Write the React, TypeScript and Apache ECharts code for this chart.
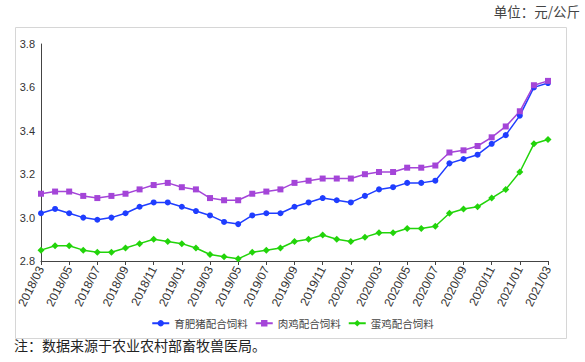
import React, { useEffect, useRef } from "react";
import * as echarts from "echarts";

const categories = [
  "2018/03","2018/04","2018/05","2018/06","2018/07","2018/08","2018/09","2018/10","2018/11","2018/12",
  "2019/01","2019/02","2019/03","2019/04","2019/05","2019/06","2019/07","2019/08","2019/09","2019/10","2019/11","2019/12",
  "2020/01","2020/02","2020/03","2020/04","2020/05","2020/06","2020/07","2020/08","2020/09","2020/10","2020/11","2020/12",
  "2021/01","2021/02","2021/03",
];

const pigFeed = [
  3.02, 3.04, 3.02, 3.0, 2.99, 3.0, 3.02, 3.05, 3.07, 3.07,
  3.05, 3.03, 3.01, 2.98, 2.97, 3.01, 3.02, 3.02, 3.05, 3.07, 3.09, 3.08,
  3.07, 3.1, 3.13, 3.14, 3.16, 3.16, 3.17, 3.25, 3.27, 3.29, 3.34, 3.38,
  3.47, 3.6, 3.62,
];

const broilerFeed = [
  3.11, 3.12, 3.12, 3.1, 3.09, 3.1, 3.11, 3.13, 3.15, 3.16,
  3.14, 3.13, 3.09, 3.08, 3.08, 3.11, 3.12, 3.13, 3.16, 3.17, 3.18, 3.18,
  3.18, 3.2, 3.21, 3.21, 3.23, 3.23, 3.24, 3.3, 3.31, 3.33, 3.37, 3.42,
  3.49, 3.61, 3.63,
];

const layerFeed = [
  2.85, 2.87, 2.87, 2.85, 2.84, 2.84, 2.86, 2.88, 2.9, 2.89,
  2.88, 2.86, 2.83, 2.82, 2.81, 2.84, 2.85, 2.86, 2.89, 2.9, 2.92, 2.9,
  2.89, 2.91, 2.93, 2.93, 2.95, 2.95, 2.96, 3.02, 3.04, 3.05, 3.09, 3.13,
  3.21, 3.34, 3.36,
];

const seriesNames = ["育肥猪配合饲料", "肉鸡配合饲料", "蛋鸡配合饲料"];
const unitText = "单位：元/公斤";
const noteText = "注：数据来源于农业农村部畜牧兽医局。";

export default function App() {
  const ref = useRef<HTMLDivElement>(null);
  useEffect(() => {
    if (!ref.current) return;
    const chart = echarts.init(ref.current, null, { renderer: "svg" });
    const font = "'Liberation Sans', 'Noto Sans CJK SC', sans-serif";
    const mk = (name: string, data: number[], color: string, symbol: string, size: number) => ({
      name,
      type: "line",
      data,
      symbol,
      symbolSize: size,
      showAllSymbol: true,
      lineStyle: { color, width: 1.5 },
      itemStyle: { color },
    });
    chart.setOption({
      animation: false,
      backgroundColor: "#ffffff",
      textStyle: { fontFamily: font },
      grid: { left: 41, right: 37, top: 44, bottom: 101, containLabel: false },
      legend: {
        top: 313,
        left: "center",
        itemWidth: 17,
        itemHeight: 8,
        itemGap: 7,
        textStyle: { fontSize: 10.5, color: "#444", fontFamily: "'Noto Sans CJK SC', sans-serif" },
        data: seriesNames,
      },
      xAxis: {
        type: "category",
        data: categories,
        boundaryGap: false,
        axisLine: { lineStyle: { color: "#444", width: 1 } },
        axisTick: { show: true, interval: 1, length: 4, lineStyle: { color: "#444" } },
        axisLabel: { interval: 1, rotate: 63, fontSize: 12, color: "#333", margin: 6, fontFamily: font },
        splitLine: { show: false },
      },
      yAxis: {
        type: "value",
        min: 2.8,
        max: 3.8,
        interval: 0.2,
        axisLine: { show: true, lineStyle: { color: "#444", width: 1 } },
        axisTick: { show: false },
        splitLine: { show: false },
        axisLabel: {
          fontSize: 11,
          color: "#333",
          margin: 6,
          fontFamily: font,
          formatter: (v: number) => v.toFixed(1),
        },
      },
      series: [
        mk(seriesNames[0], pigFeed, "#1f3dff", "circle", 6),
        mk(seriesNames[1], broilerFeed, "#a445d8", "rect", 6),
        mk(seriesNames[2], layerFeed, "#22d40a", "diamond", 7),
      ],
      graphic: [
        {
          type: "rect",
          left: 13,
          top: 25,
          shape: { width: 551, height: 311 },
          style: { fill: "none", stroke: "#d6d6d6", lineWidth: 1 },
          silent: true,
          z: -1,
        },
        {
          type: "text",
          right: 5,
          top: 4,
          style: { text: unitText, fontSize: 13.5, fill: "#444", fontFamily: "'Noto Sans CJK SC', sans-serif" },
        },
        {
          type: "text",
          left: 14,
          top: 338,
          style: { text: noteText, fontSize: 14, fill: "#222", fontFamily: "'Noto Sans CJK SC', sans-serif" },
        },
      ],
    });
    return () => chart.dispose();
  }, []);
  return (
    <div
      ref={ref}
      style={{ position: "fixed", left: 0, top: 0, width: 585, height: 362 }}
    />
  );
}
